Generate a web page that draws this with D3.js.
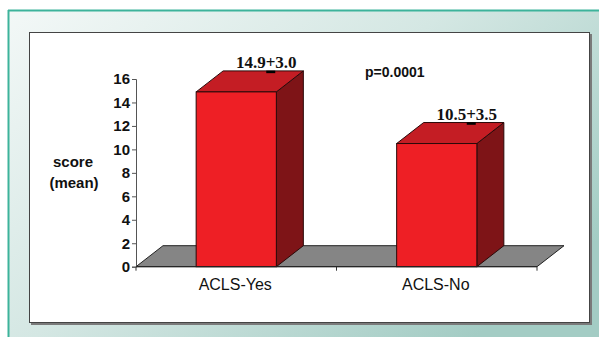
<!DOCTYPE html>
<html>
<head>
<meta charset="utf-8">
<script src="https://cdn.jsdelivr.net/npm/d3@7"></script>
<style>
  body { margin: 0; background: #fff; }
  svg { display: block; }
</style>
</head>
<body>
<script>
// chart data
var categories = ["ACLS-Yes", "ACLS-No"];
var means = [14.9, 10.5];
var barLabels = ["14.9+3.0", "10.5+3.5"];
var yTicks = [0, 2, 4, 6, 8, 10, 12, 14, 16];
var pLabel = "p=0.0001";

var W = 599, H = 337;
var depth = { dx: 27, dy: 21 };

var svg = d3.select("body").append("svg")
    .attr("width", W)
    .attr("height", H);

// frame background
var defs = svg.append("defs");
var grad = defs.append("linearGradient")
    .attr("id", "bg")
    .attr("x1", "0").attr("y1", "0")
    .attr("x2", "1").attr("y2", "0.7");
grad.append("stop").attr("offset", "0").attr("stop-color", "#f3f8f7");
grad.append("stop").attr("offset", "0.5").attr("stop-color", "#d4e7e3");
grad.append("stop").attr("offset", "1").attr("stop-color", "#a3ccc4");

svg.append("rect")
    .attr("x", 8).attr("y", 10)
    .attr("width", W - 8).attr("height", H - 10)
    .attr("fill", "url(#bg)");
svg.append("line")
    .attr("x1", 8).attr("x2", W).attr("y1", 10.5).attr("y2", 10.5)
    .attr("stroke", "#3db39b").attr("stroke-width", 2);
svg.append("line")
    .attr("x1", 8.5).attr("x2", 8.5).attr("y1", 10).attr("y2", H)
    .attr("stroke", "#3db39b").attr("stroke-width", 2);

// white panel with shadow
svg.append("rect")
    .attr("x", 31).attr("y", 34)
    .attr("width", 561).attr("height", 291)
    .attr("fill", "#7a7a7a");
svg.append("rect")
    .attr("x", 29.5).attr("y", 32.5)
    .attr("width", 560).attr("height", 290)
    .attr("fill", "#fff")
    .attr("stroke", "#444").attr("stroke-width", 1);

// scales
var x = d3.scaleBand()
    .domain(categories)
    .range([136, 537])
    .paddingInner(0.6)
    .paddingOuter(0.3);
var y = d3.scaleLinear()
    .domain([0, 16])
    .range([266.7, 79]);

var y0 = y(0);
var xl = x.range()[0], xr = x.range()[1];

// floor
svg.append("path")
    .attr("d", "M" + xl + "," + y0 +
        "L" + (xl + depth.dx) + "," + (y0 - depth.dy) +
        "L" + (xr + depth.dx) + "," + (y0 - depth.dy) +
        "L" + xr + "," + y0 + "Z")
    .attr("fill", "#858585")
    .attr("stroke", "#222")
    .attr("stroke-width", 1);

// category divider ticks
var step = x.step();
var dividers = [xl, xl + step, xr];
svg.selectAll(".div-tick")
    .data(dividers)
    .enter().append("line")
    .attr("x1", function(d) { return d; })
    .attr("x2", function(d) { return d; })
    .attr("y1", y0).attr("y2", y0 + 4)
    .attr("stroke", "#333");

// bars
var bars = svg.selectAll(".bar")
    .data(means)
    .enter().append("g")
    .attr("class", "bar");

bars.each(function(d, i) {
    var g = d3.select(this);
    var bx = x(categories[i]), bw = x.bandwidth();
    var top = y(d);
    // side
    g.append("path")
        .attr("d", "M" + (bx + bw) + "," + top +
            "L" + (bx + bw + depth.dx) + "," + (top - depth.dy) +
            "L" + (bx + bw + depth.dx) + "," + (y0 - depth.dy) +
            "L" + (bx + bw) + "," + y0 + "Z")
        .attr("fill", "#7e1417")
        .attr("stroke", "#2a0a0a").attr("stroke-width", 1);
    // top
    g.append("path")
        .attr("d", "M" + bx + "," + top +
            "L" + (bx + depth.dx) + "," + (top - depth.dy) +
            "L" + (bx + bw + depth.dx) + "," + (top - depth.dy) +
            "L" + (bx + bw) + "," + top + "Z")
        .attr("fill", "#c41d24")
        .attr("stroke", "#2a0a0a").attr("stroke-width", 1);
    // front
    g.append("rect")
        .attr("x", bx).attr("y", top)
        .attr("width", bw).attr("height", y0 - top)
        .attr("fill", "#ee1f25")
        .attr("stroke", "#2a0a0a").attr("stroke-width", 1);
    // error bar nub
    var cx = bx + bw / 2 + depth.dx;
    g.append("line")
        .attr("x1", cx + 3).attr("x2", cx + 12)
        .attr("y1", top - depth.dy + 1).attr("y2", top - depth.dy + 1)
        .attr("stroke", "#000").attr("stroke-width", 2.5);
    // value label
    g.append("text")
        .attr("x", cx + 3)
        .attr("y", top - depth.dy - 3)
        .attr("text-anchor", "middle")
        .style("font-family", "'Liberation Serif', serif")
        .style("font-weight", "bold")
        .style("font-size", "17px")
        .attr("fill", "#111")
        .text(barLabels[i]);
});

// y axis
var yAxis = d3.axisLeft(y)
    .tickValues(yTicks)
    .tickSize(4)
    .tickPadding(2);
var ya = svg.append("g")
    .attr("transform", "translate(136,0)")
    .call(yAxis);
ya.select(".domain").attr("stroke", "#555");
ya.selectAll(".tick line").attr("stroke", "#555");
ya.selectAll(".tick text")
    .style("font-family", "'Liberation Sans', Arial, sans-serif")
    .style("font-size", "15px")
    .style("font-weight", "bold")
    .attr("fill", "#111");

// front floor edge
svg.append("line")
    .attr("x1", xl).attr("x2", xr)
    .attr("y1", y0).attr("y2", y0)
    .attr("stroke", "#222");

// category labels
svg.selectAll(".cat")
    .data(categories)
    .enter().append("text")
    .attr("x", function(d) { return x(d) + x.bandwidth() / 2 - 1; })
    .attr("y", 290)
    .attr("text-anchor", "middle")
    .style("font-family", "'Liberation Sans', Arial, sans-serif")
    .style("font-size", "16px")
    .attr("fill", "#111")
    .text(function(d) { return d; });

// y title
var yt = svg.append("text")
    .attr("text-anchor", "middle")
    .style("font-family", "'Liberation Sans', Arial, sans-serif")
    .style("font-size", "15px")
    .style("font-weight", "bold")
    .attr("fill", "#111");
yt.append("tspan").attr("x", 73).attr("y", 167).text("score");
yt.append("tspan").attr("x", 74).attr("y", 188).text("(mean)");

// p value
svg.append("text")
    .attr("x", 365).attr("y", 77)
    .style("font-family", "'Liberation Sans', Arial, sans-serif")
    .style("font-size", "14px")
    .style("font-weight", "bold")
    .attr("fill", "#111")
    .text(pLabel);
</script>
</body>
</html>
